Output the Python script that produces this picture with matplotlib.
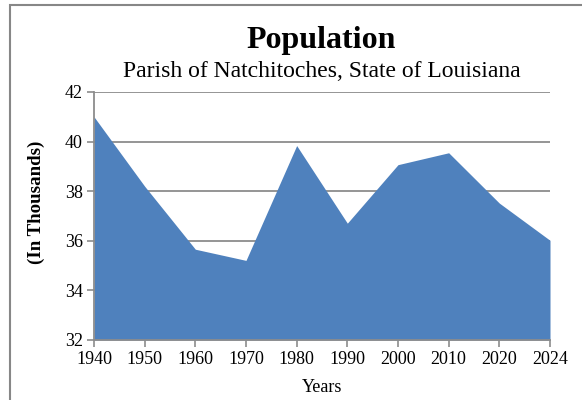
import matplotlib
matplotlib.use("Agg")
import matplotlib.pyplot as plt
from matplotlib.patches import Rectangle
import numpy as np

years = ["1940", "1950", "1960", "1970", "1980", "1990", "2000", "2010", "2020", "2024"]
population = [41.0, 38.2, 35.66, 35.21, 39.84, 36.71, 39.07, 39.55, 37.52, 36.02]
y_ticks = [32, 34, 36, 38, 40, 42]

plt.rcParams['font.family'] = ['Liberation Serif', 'DejaVu Serif']

W, H = 582, 400
fig = plt.figure(figsize=(W / 100, H / 100), dpi=100)
ax = fig.add_axes([94 / W, 1 - 340 / H, 456 / W, 248 / H])

# chart frame (cut off at right and bottom in the original)
fig.patches.append(Rectangle((10 / W, -0.2), 1.2, 1.2 - 5 / H,
                             transform=fig.transFigure, fill=False,
                             edgecolor="#878787", linewidth=1.5))

x = np.arange(len(years))
ax.fill_between(x, population, 32, color="#4f81bd", linewidth=0, zorder=2)

ax.set_xlim(0, len(years) - 1)
ax.set_ylim(32, 42)
ax.set_yticks(y_ticks)
ax.set_xticks(x)
ax.set_xticklabels(years)

ax.yaxis.grid(True, color="#8c8c8c", linewidth=1.3)
ax.set_axisbelow(True)
for s in ["top", "right"]:
    ax.spines[s].set_visible(False)
for s in ["left", "bottom"]:
    ax.spines[s].set_color("#8c8c8c")
    ax.spines[s].set_linewidth(1.3)
    ax.spines[s].set_zorder(3)
ax.tick_params(direction="out", length=5, width=1.2, color="#8c8c8c",
               labelsize=13, pad=3)

# axis titles
fig.text(322 / W, 1 - 387 / H, "Years", fontsize=13, ha="center", va="center")
fig.text(36 / W, 1 - 202.5 / H, "(In Thousands)", fontsize=13.6, fontweight="bold",
         rotation=90, ha="center", va="center")

fig.text(321.5 / W, 1 - 48 / H, "Population", fontsize=23, fontweight="bold",
         ha="center", va="baseline")
fig.text(322 / W, 1 - 77 / H, "Parish of Natchitoches, State of Louisiana",
         fontsize=17, ha="center", va="baseline")

fig.savefig("out.png", dpi=100)
